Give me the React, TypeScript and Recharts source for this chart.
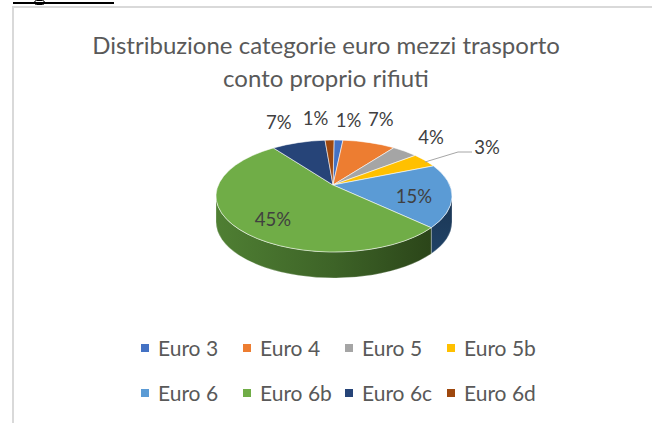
import React from 'react';
import { PieChart, Pie, Legend } from 'recharts';

const categories = ['Euro 3', 'Euro 4', 'Euro 5', 'Euro 5b', 'Euro 6', 'Euro 6b', 'Euro 6c', 'Euro 6d'];
const sliceValues = [1, 6, 3, 3.2, 15.4, 47, 6.1, 1];
// percentages printed on the chart
const percentLabels = ['1%', '7%', '4%', '3%', '15%', '45%', '7%', '1%'];
const colors = ['#4472c4', '#ed7d31', '#a5a5a5', '#ffc000', '#5b9bd5', '#70ad47', '#264478', '#9e480e'];
const titleLines = ['Distribuzione categorie euro mezzi trasporto', 'conto proprio rifiuti'];

const chartData = categories.map((name, i) => ({ name, value: sliceValues[i], fill: colors[i], label: percentLabels[i] }));

const CX = 334;
const CY = 196;
const RX = 118;
const RY = 56;
const APEX = { x: 333, y: 185 };
const DEPTH = 26;
const labelNudge: [number, number][] = [
  [10, -20], [11.5, -24], [26, -14], [62, -13], [-38, -1], [25, -15], [-19.5, -21], [-14, -22],
];
const FONT = 'Lato, "Open Sans", sans-serif';

// Recharts angle (counter-clockwise from 3 o'clock) to a point on the tilted rim
const rim = (a: number, dy = 0) => ({
  x: CX + RX * Math.cos((a * Math.PI) / 180),
  y: CY - RY * Math.sin((a * Math.PI) / 180) + dy,
});

const TopSlice = (p: any) => {
  const s = rim(p.startAngle);
  const e = rim(p.endAngle);
  const large = Math.abs(p.endAngle - p.startAngle) > 180 ? 1 : 0;
  const d = `M${APEX.x},${APEX.y} L${s.x},${s.y} A${RX},${RY} 0 ${large} 1 ${e.x},${e.y} Z`;
  return <path d={d} fill={p.fill} stroke="#ffffff" strokeOpacity={0.55} strokeWidth={1} />;
};

const wallFill = (i: number) => (i === 5 ? 'url(#wallGreen)' : i === 4 ? 'url(#wallBlue)' : '#3a3a3a');

const WallSlice = (p: any) => {
  // recharts sweeps clockwise, angles decreasing; only the front half (180..360) shows
  const norm = (a: number) => ((a % 360) + 360) % 360;
  let hi = norm(p.startAngle);
  let lo = hi - Math.abs(p.endAngle - p.startAngle);
  if (hi < 180) { hi += 360; lo += 360; }
  const from = Math.min(hi, 360);
  const to = Math.max(lo, 180);
  if (from <= to) return <g />;
  const a = rim(from);
  const b = rim(to);
  const c = rim(to, DEPTH);
  const d = rim(from, DEPTH);
  const path = `M${a.x},${a.y} A${RX},${RY} 0 0 1 ${b.x},${b.y} L${c.x},${c.y} A${RX},${RY} 0 0 0 ${d.x},${d.y} Z`;
  return <path d={path} fill={wallFill(p.index)} stroke="#ffffff" strokeOpacity={0.35} strokeWidth={0.75} />;
};

const SliceLabel = (p: any) => {
  const m = rim(p.midAngle);
  const [dx, dy] = labelNudge[p.index];
  const x = m.x + dx;
  const y = m.y + dy;
  return (
    <g>
      {p.index === 3 && <polyline points="425,162 458,152 472,152" fill="none" stroke="#a6a6a6" strokeWidth={1} />}
      <text x={x} y={y} textAnchor="middle" dominantBaseline="central" fontFamily={FONT} fontSize={18.5} fill="#404040">
        {chartData[p.index].label}
      </text>
    </g>
  );
};

const LegendGrid = ({ payload }: any) => {
  const seen = new Set<string>();
  const items = (payload || []).filter((item: any) => {
    if (seen.has(item.value)) return false;
    seen.add(item.value);
    return true;
  });
  return (
    <div style={{ display: 'grid', gridTemplateColumns: 'repeat(4, 102px)', rowGap: 0, fontFamily: FONT, fontSize: 21, color: '#595959' }}>
      {items.map((item: any) => (
        <div key={item.value} style={{ display: 'flex', alignItems: 'center', height: 45, whiteSpace: 'nowrap' }}>
          <span style={{ width: 8, height: 8, background: item.color, marginRight: 9, flex: 'none' }} />
          {item.value}
        </div>
      ))}
    </div>
  );
};

export default function App() {
  return (
    <div style={{ position: 'absolute', left: 0, top: 0, width: 652, height: 423, background: '#fff', overflow: 'hidden' }}>
      <div style={{ position: 'absolute', left: 13, top: 2, width: 101, height: 2, background: '#000' }} />
      <div style={{ position: 'absolute', left: 34, top: 0, width: 11, height: 5, border: '1.5px solid #000', borderRadius: 6, boxSizing: 'border-box' }} />
      <div style={{ position: 'absolute', left: 13, top: 6, width: 639, height: 2, background: '#d9d9d9' }} />
      <div style={{ position: 'absolute', left: 12, top: 6, width: 2, height: 417, background: '#d9d9d9' }} />
      <PieChart width={652} height={423} margin={{ top: 0, right: 0, bottom: 0, left: 0 }}>
        <defs>
          <linearGradient id="wallGreen" x1="0" y1="0" x2="1" y2="0">
            <stop offset="0" stopColor="#4f7f33" />
            <stop offset="0.55" stopColor="#3d6327" />
            <stop offset="1" stopColor="#2b4519" />
          </linearGradient>
          <linearGradient id="wallBlue" x1="0" y1="0" x2="0" y2="1">
            <stop offset="0" stopColor="#1b3553" />
            <stop offset="1" stopColor="#1f4266" />
          </linearGradient>
        </defs>
        <text x={326} textAnchor="middle" fontFamily={FONT} fontSize={24} fill="#595959">
          <tspan x={326} y={54}>{titleLines[0]}</tspan>
          <tspan x={326} y={87}>{titleLines[1]}</tspan>
        </text>
        <Pie data={chartData} dataKey="value" nameKey="name" cx={CX} cy={CY} outerRadius={RX} startAngle={90} endAngle={-270}
          isAnimationActive={false} legendType="none" shape={WallSlice} label={false} labelLine={false} />
        <Pie data={chartData} dataKey="value" nameKey="name" cx={CX} cy={CY} outerRadius={RX} startAngle={90} endAngle={-270}
          isAnimationActive={false} shape={TopSlice} label={SliceLabel} labelLine={false} />
        <Legend content={LegendGrid} layout="horizontal" verticalAlign="top" align="left"
          wrapperStyle={{ left: 141, top: 325, width: 420 }} />
      </PieChart>
    </div>
  );
}
